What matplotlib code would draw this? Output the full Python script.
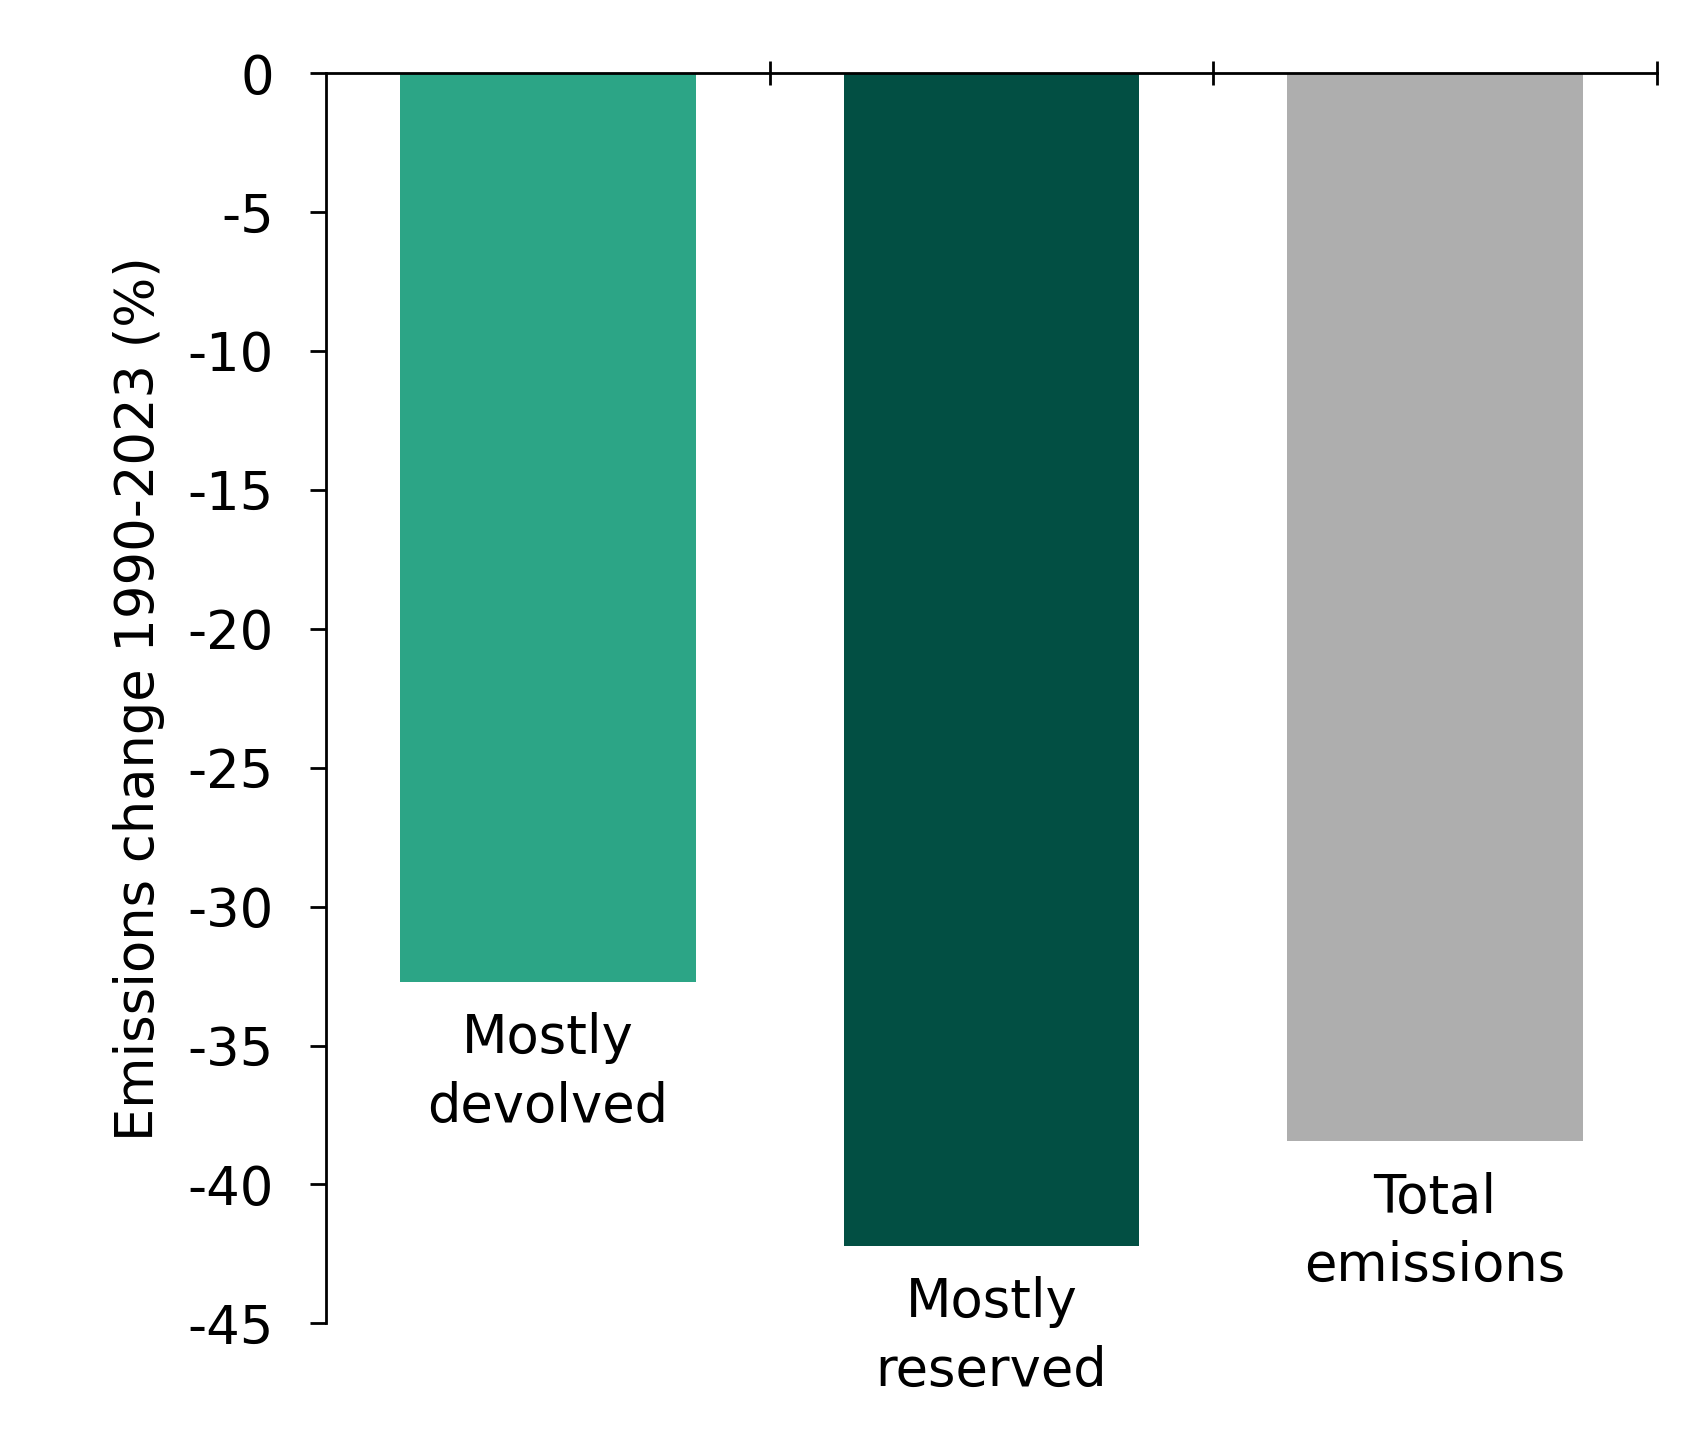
import matplotlib
matplotlib.use('Agg')
import matplotlib.pyplot as plt
import numpy as np

plt.rcParams['font.family'] = ['DejaVu Sans']

categories = ['Mostly\ndevolved', 'Mostly\nreserved', 'Total\nemissions']
values = [-32.7, -42.2, -38.45]
colors = ['#2ca586', '#024f43', '#aeaeae']
yticks = [0, -5, -10, -15, -20, -25, -30, -35, -40, -45]

fig = plt.figure(figsize=(8.54, 7.23), dpi=200)
ax = fig.add_axes([0.191, 0.0848, 0.779, 0.8647])

x = np.arange(len(categories))
ax.bar(x, values, width=0.667, color=colors)

# category names sit just under each bar
for xi, v, lab in zip(x, values, categories):
    ax.annotate(lab, (xi, v), xytext=(0, -11), textcoords='offset points',
                ha='center', va='top', fontsize=19, linespacing=1.4)

ax.set_xlim(-0.5, 2.5)
ax.set_ylim(-45, 0)
ax.set_yticks(yticks)
ax.set_yticklabels([str(t) for t in yticks], fontsize=19)
ax.set_ylabel('Emissions change 1990-2023 (%)', fontsize=19, labelpad=8)

ax.xaxis.tick_top()
ax.set_xticks([0.5, 1.5, 2.5])
ax.set_xticklabels([])
ax.tick_params(axis='x', direction='inout', length=8.5, width=1.0)
ax.tick_params(axis='y', direction='out', length=5.8, width=1.0, pad=13)

for s in ['right', 'bottom']:
    ax.spines[s].set_visible(False)
for s in ['left', 'top']:
    ax.spines[s].set_linewidth(1.0)

fig.savefig('out.png', dpi=200)
